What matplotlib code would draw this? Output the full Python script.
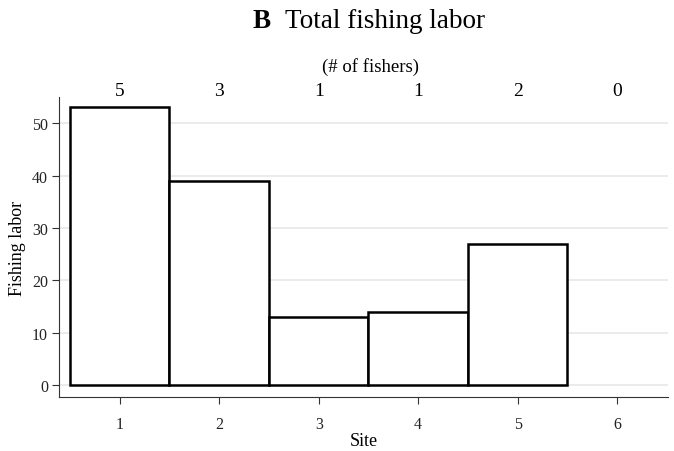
import matplotlib
matplotlib.use('Agg')
import matplotlib.pyplot as plt
import matplotlib.transforms as mtransforms

sites = [1, 2, 3, 4, 5, 6]
labor = [53, 39, 13, 14, 27, 0]
fishers = [5, 3, 1, 1, 2, 0]
y_ticks = [0, 10, 20, 30, 40, 50]

plt.rcParams['font.family'] = ['Liberation Serif', 'DejaVu Serif']

fig = plt.figure(figsize=(6.74, 4.52), dpi=100)
ax = fig.add_axes([59 / 674, 54 / 452, 609 / 674, 300 / 452])

# grid behind bars
for yt in y_ticks:
    ax.axhline(yt, color='#e8e8e8', lw=1.2, zorder=0)

# only draw bars with a value (zero bar shows nothing in the original)
xs = [s for s, v in zip(sites, labor) if v > 0]
hs = [v for v in labor if v > 0]
ax.bar(xs, hs, width=1.0, facecolor='white', edgecolor='black', linewidth=1.8, zorder=2)

ax.set_xlim(0.39, 6.51)
ax.set_ylim(-2.3, 55)
ax.set_xticks(sites)
ax.set_yticks(y_ticks)
ax.tick_params(axis='both', labelsize=11.5, length=5, width=0.8, color='#333333',
               labelcolor='#222222')
ax.tick_params(axis='y', pad=3)
ax.tick_params(axis='x', pad=9)

for side in ['top', 'right']:
    ax.spines[side].set_visible(False)
for side in ['left', 'bottom']:
    ax.spines[side].set_linewidth(0.8)
    ax.spines[side].set_color('#333333')

ax.set_xlabel('Site', fontsize=13, labelpad=0)
ax.set_ylabel('Fishing labor', fontsize=13, labelpad=4)

# number of fishers above each site
trans = mtransforms.blended_transform_factory(ax.transData, fig.transFigure)
for s, n in zip(sites, fishers):
    ax.text(s, 1 - 92 / 452, str(n), transform=trans, ha='center', va='center',
            fontsize=14, clip_on=False)

fig.text(371 / 674, 1 - 67 / 452, '(# of fishers)', ha='center', va='center', fontsize=13.5)
fig.text(253 / 674, 1 - 21 / 452, 'B', ha='left', va='center', fontsize=19.5, fontweight='bold')
fig.text(285 / 674, 1 - 21 / 452, 'Total fishing labor', ha='left', va='center', fontsize=19.5)

plt.savefig('out.png', dpi=100)
